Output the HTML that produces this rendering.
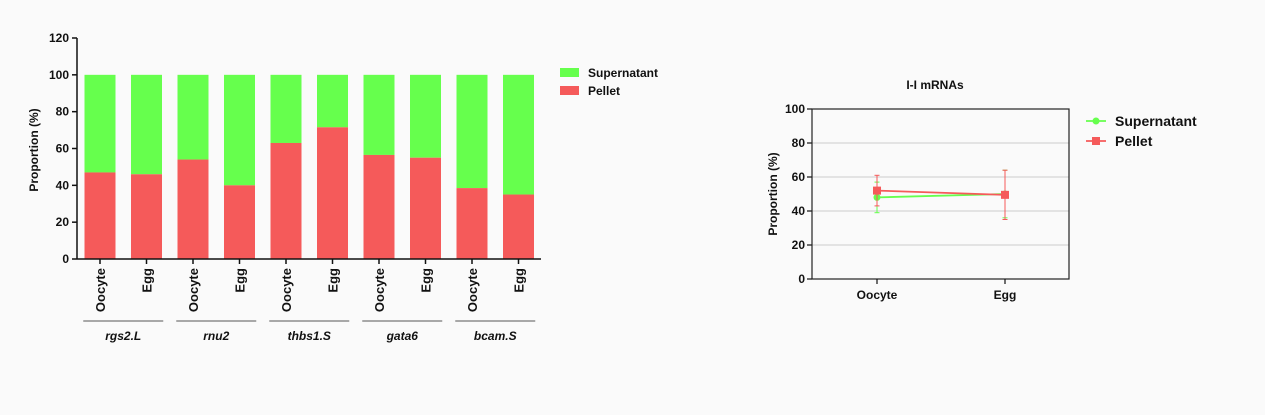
<!DOCTYPE html>
<html><head><meta charset="utf-8"><style>
html,body{margin:0;padding:0;background:#fafafa;}
svg{display:block;font-family:"Liberation Sans",sans-serif;}
</style></head><body>
<svg id="c" width="1265" height="415" xmlns="http://www.w3.org/2000/svg"></svg>
<script>
const categories=["Oocyte","Egg","Oocyte","Egg","Oocyte","Egg","Oocyte","Egg","Oocyte","Egg"];
const genes=["rgs2.L","rnu2","thbs1.S","gata6","bcam.S"];
const pelletValues=[47,46,54,40,63,71.5,56.5,55,38.5,35];
const leftTicks=[0,20,40,60,80,100,120];
const lineCats=["Oocyte","Egg"];
const supMean=[48,50];
const supErrLow=[39,36];
const supErrHigh=[57,64];
const pelMean=[52,49.5];
const pelErrLow=[43,35];
const pelErrHigh=[61,64];
const rightTicks=[0,20,40,60,80,100];

const S=document.getElementById('c');const NS='http://www.w3.org/2000/svg';
function el(t,a,txt){const e=document.createElementNS(NS,t);for(const k in a)e.setAttribute(k,a[k]);if(txt!==undefined)e.textContent=txt;S.appendChild(e);return e;}
const GREEN='#66ff4d',RED='#f55a5a';
// Left chart
const ly=v=>259-v*(259-38)/120;
const lx=i=>100+i*46.5;
const bw=31;
for(let i=0;i<categories.length;i++){
  let r=el('rect',{x:lx(i)-bw/2,y:ly(100),width:bw,height:ly(pelletValues[i])-ly(100),fill:GREEN});
  
  r=el('rect',{x:lx(i)-bw/2,y:ly(pelletValues[i]),width:bw,height:ly(0)-ly(pelletValues[i]),fill:RED});
  
  const t=el('text',{x:0,y:0,transform:`translate(${lx(i)+5},268) rotate(-90)`,'text-anchor':'end','font-size':13,'font-weight':'bold',fill:'#111'},categories[i]);
  
}
let a=el('line',{x1:77,y1:38,x2:77,y2:259,stroke:'#111','stroke-width':1.5});

a=el('line',{x1:77,y1:259,x2:541,y2:259,stroke:'#111','stroke-width':1.5});

leftTicks.forEach(v=>{el('line',{x1:72,y1:ly(v),x2:77,y2:ly(v),stroke:'#111','stroke-width':1.5});
  const t=el('text',{x:69,y:ly(v)+4,'text-anchor':'end','font-size':12,'font-weight':'bold',fill:'#111'},v);
  });
for(let i=0;i<categories.length;i++)el('line',{x1:lx(i),y1:259,x2:lx(i),y2:264,stroke:'#111','stroke-width':1.5});
let t=el('text',{x:0,y:0,transform:'translate(38,150) rotate(-90)','text-anchor':'middle','font-size':12,'font-weight':'bold',fill:'#111'},'Proportion (%)');

genes.forEach((g,k)=>{const cx=(lx(2*k)+lx(2*k+1))/2;
  el('line',{x1:cx-40,y1:321,x2:cx+40,y2:321,stroke:'#777','stroke-width':1.3});
  const tt=el('text',{x:cx,y:340,'text-anchor':'middle','font-size':12,'font-weight':'bold','font-style':'italic',fill:'#111'},g);
  });
[[GREEN,'Supernatant',68],[RED,'Pellet',86]].forEach(([c,n,y])=>{
  const r=el('rect',{x:560,y:y,width:19,height:9,fill:c});
  const tt=el('text',{x:588,y:y+9,'font-size':12,'font-weight':'bold',fill:'#111'},n);});
// Right chart
const ry=v=>279-v*(279-109)/100;
const rx=i=>877+i*128;
rightTicks.forEach(v=>{if(v>0&&v<100)el('line',{x1:812,y1:ry(v),x2:1069,y2:ry(v),stroke:'#ccc','stroke-width':1});
  el('line',{x1:807,y1:ry(v),x2:812,y2:ry(v),stroke:'#111','stroke-width':1.2});
  const tt=el('text',{x:805,y:ry(v)+4,'text-anchor':'end','font-size':12,'font-weight':'bold',fill:'#111'},v);
  });
a=el('rect',{x:812,y:109,width:257,height:170,fill:'none',stroke:'#222','stroke-width':1.2});

lineCats.forEach((c,i)=>{el('line',{x1:rx(i),y1:279,x2:rx(i),y2:284,stroke:'#111','stroke-width':1.2});
  const tt=el('text',{x:rx(i),y:299,'text-anchor':'middle','font-size':12,'font-weight':'bold',fill:'#111'},c);
  });
t=el('text',{x:0,y:0,transform:'translate(777,194) rotate(-90)','text-anchor':'middle','font-size':12,'font-weight':'bold',fill:'#111'},'Proportion (%)');

t=el('text',{x:935,y:89,'text-anchor':'middle','font-size':12,'font-weight':'bold',fill:'#111'},'I-I mRNAs');

function series(mean,lo,hi,col,sq,name){
  mean.forEach((m,i)=>{el('line',{x1:rx(i),y1:ry(lo[i]),x2:rx(i),y2:ry(hi[i]),stroke:col,'stroke-width':1});
    el('line',{x1:rx(i)-2.5,y1:ry(lo[i]),x2:rx(i)+2.5,y2:ry(lo[i]),stroke:col});
    el('line',{x1:rx(i)-2.5,y1:ry(hi[i]),x2:rx(i)+2.5,y2:ry(hi[i]),stroke:col});});
  const p=el('polyline',{points:mean.map((m,i)=>rx(i)+','+ry(m)).join(' '),fill:'none',stroke:col,'stroke-width':1.8});
  
  mean.forEach((m,i)=>{const mk=sq?el('rect',{x:rx(i)-4,y:ry(m)-4,width:8,height:8,fill:col}):el('circle',{cx:rx(i),cy:ry(m),r:3.5,fill:col});
    });
}
series(supMean,supErrLow,supErrHigh,GREEN,false,'supernatant');
series(pelMean,pelErrLow,pelErrHigh,RED,true,'pellet');
[[GREEN,'Supernatant',121,false],[RED,'Pellet',141,true]].forEach(([c,n,y,sq])=>{
  el('line',{x1:1086,y1:y,x2:1106,y2:y,stroke:c,'stroke-width':1.8});
  if(sq)el('rect',{x:1092,y:y-4,width:8,height:8,fill:c});else el('circle',{cx:1096,cy:y,r:3.5,fill:c});
  const tt=el('text',{x:1115,y:y+5,'font-size':14,'font-weight':'bold',fill:'#111'},n);
  });
</script>
</body></html>
